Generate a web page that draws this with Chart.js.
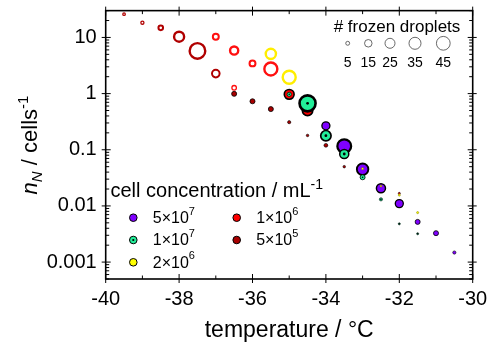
<!DOCTYPE html>
<html lang="en">
<head>
  <meta charset="UTF-8">
  <title>n_N vs temperature</title>
  <style>
    body { margin: 0; background: #fff; }
    canvas { display: block; }
  </style>
</head>
<body>
  <canvas id="chart" width="492" height="344"></canvas>
  <script src="https://cdn.jsdelivr.net/npm/chart.js@4.4.9/dist/chart.umd.min.js"></script>
  <script>
    // temperature (°C), n_N (cells^-1), number of frozen droplets
    const ringDarkT = [-39.5, -39, -38.5, -38, -37.5, -37];
    const ringDarkV = [26, 18.3, 14.8, 10.3, 5.75, 2.27];
    const ringDarkN = [3, 4, 9, 32, 67, 19];

    const ringRedT = [-37, -36.5, -36.5, -36, -35.5];
    const ringRedV = [10.3, 5.85, 1.27, 3.45, 2.75];
    const ringRedN = [13, 23, 7, 13, 49];

    const ringYellowT = [-35.5, -35];
    const ringYellowV = [5.1, 1.96];
    const ringYellowN = [33, 49];

    const dot5e5T = [-36.5, -36, -35.5, -35, -34.5, -34, -33.5];
    const dot5e5V = [0.99, 0.73, 0.53, 0.31, 0.18, 0.12, 0.05];
    const dot5e5N = [7, 7, 7, 3, 2, 4, 2];

    const dot1e6T = [-35, -34.5, -32];
    const dot1e6V = [0.97, 0.5, 0.0167];
    const dot1e6N = [27, 30, 1.5];

    const dot2e6T = [-33, -32.5, -32, -31.5];
    const dot2e6V = [0.046, 0.0226, 0.0156, 0.0076];
    const dot2e6N = [1.5, 1.2, 1.5, 1.5];

    const dot1e7T = [-35, -34.5, -34, -33.5, -33, -32.5, -32, -31.5];
    const dot1e7V = [0.97, 0.67, 0.178, 0.084, 0.0324, 0.0131, 0.0048, 0.0032];
    const dot1e7N = [5, 72, 30, 23, 7, 3, 1.5, 1.5];

    const dot5e7T = [-34, -33.5, -33, -32.5, -32, -31.5, -31, -30.5];
    const dot5e7V = [0.267, 0.116, 0.045, 0.0207, 0.011, 0.0052, 0.00327, 0.00148];
    const dot5e7N = [18, 53, 37, 23, 18, 7, 7, 3];

    const xTickValues = [-40, -38, -36, -34, -32, -30];
    const xTickLabels = ['-40', '-38', '-36', '-34', '-32', '-30'];
    const yTickValues = [0.001, 0.01, 0.1, 1, 10];
    const yTickLabels = ['0.001', '0.01', '0.1', '1', '10'];

    const concMant = ['5', '1', '2', '1', '5'];
    const concExp = ['7', '7', '6', '6', '5'];
    const sizeCounts = [5, 15, 25, 35, 45];

    const PURPLE = '#7f00ff';
    const GREEN = '#22ee99';
    const YELLOW = '#ffff00';
    const RED = '#ff0000';
    const DARKRED = '#a80000';
    const FONT = 'Arial, "Liberation Sans", sans-serif';

    function outerR(n) { return 1.1 * Math.sqrt(n); }

    function filledPoints(ts, vs, ns) {
      return ts.map((t, i) => {
        const R = outerR(ns[i]);
        const bw = Math.max(0.6, R * 0.28);
        return { x: t, y: vs[i], r: R - bw / 2, bw };
      });
    }
    function ringPoints(ts, vs, ns) {
      return ts.map((t, i) => {
        const R = outerR(ns[i]);
        const bw = R > 5 ? 2.4 : R > 3 ? 2 : 1.3;
        return { x: t, y: vs[i], r: R - bw / 2, bw };
      });
    }
    function ds(label, data, fill, stroke, order) {
      return {
        label, data, order,
        backgroundColor: fill,
        borderColor: stroke,
        borderWidth: c => (c.raw && c.raw.bw) || 1
      };
    }

    // draws text pieces one after another, returns end x
    function rich(ctx, x, y, parts) {
      for (const p of parts) {
        ctx.font = p.font;
        ctx.fillText(p.t, x, y + (p.dy || 0));
        x += ctx.measureText(p.t).width;
      }
      return x;
    }
    function richWidth(ctx, parts) {
      let w = 0;
      for (const p of parts) { ctx.font = p.font; w += ctx.measureText(p.t).width; }
      return w;
    }

    function marker(ctx, x, y, color, dot) {
      ctx.beginPath();
      ctx.arc(x, y, 3.8, 0, Math.PI * 2);
      ctx.fillStyle = color;
      ctx.fill();
      ctx.lineWidth = 1;
      ctx.strokeStyle = '#000';
      ctx.stroke();
      if (dot) {
        ctx.beginPath();
        ctx.arc(x, y, 1.1, 0, Math.PI * 2);
        ctx.fillStyle = '#000';
        ctx.fill();
      }
    }

    const centerDots = {
      id: 'centerDots',
      afterDatasetDraw(chart, args) {
        if (chart.data.datasets[args.index].label !== '1e7') return;
        const ctx = chart.ctx;
        ctx.save();
        ctx.fillStyle = '#000';
        for (const el of args.meta.data) {
          ctx.beginPath();
          ctx.arc(el.x, el.y, el.options.radius > 3 ? 1.4 : 0.8, 0, Math.PI * 2);
          ctx.fill();
        }
        ctx.restore();
      }
    };

    const frame = {
      id: 'frame',
      afterDraw(chart) {
        const { ctx, chartArea: a, scales: { x, y } } = chart;
        ctx.save();
        ctx.strokeStyle = '#000';
        ctx.lineWidth = 1.6;
        ctx.strokeRect(a.left, a.top, a.right - a.left, a.bottom - a.top);

        ctx.lineWidth = 1;
        ctx.beginPath();
        for (let t = -40; t <= -30; t++) {
          const px = x.getPixelForValue(t);
          const major = t % 2 === 0;
          const out = major ? 4 : 0, inn = major ? 5 : 3.5;
          ctx.moveTo(px, a.bottom + out); ctx.lineTo(px, a.bottom - inn);
          ctx.moveTo(px, a.top - out); ctx.lineTo(px, a.top + inn);
        }
        for (let e = -4; e <= 1; e++) {
          for (let m = 1; m <= 9; m++) {
            const v = m * Math.pow(10, e);
            if (v < 0.0005 || v > 30) continue;
            const py = y.getPixelForValue(v);
            const major = m === 1;
            const out = major ? 4 : 0, inn = major ? 5 : 3.5;
            ctx.moveTo(a.left - out, py); ctx.lineTo(a.left + inn, py);
            ctx.moveTo(a.right + out, py); ctx.lineTo(a.right - inn, py);
          }
        }
        ctx.stroke();

        ctx.fillStyle = '#000';
        ctx.textBaseline = 'alphabetic';

        // x title
        ctx.textAlign = 'left';
        ctx.font = '23px ' + FONT;
        const xt = 'temperature / °C';
        const xw = ctx.measureText(xt).width;
        ctx.fillText(xt, (a.left + a.right) / 2 - xw / 2, 337);

        // y title
        const yParts = [
          { t: 'n', font: 'italic 22px ' + FONT },
          { t: 'N', font: 'italic 15px ' + FONT, dy: 5 },
          { t: ' / cells', font: '22px ' + FONT },
          { t: '-1', font: '15px ' + FONT, dy: -9 }
        ];
        ctx.save();
        ctx.translate(36.5, 145);
        ctx.rotate(-Math.PI / 2);
        rich(ctx, -richWidth(ctx, yParts) / 2, 0, yParts);
        ctx.restore();

        // concentration legend
        rich(ctx, 110.5, 197, [
          { t: 'cell concentration / mL', font: '20px ' + FONT },
          { t: '-1', font: '14px ' + FONT, dy: -8 }
        ]);
        const cols = [PURPLE, GREEN, YELLOW, RED, DARKRED];
        const pos = [[133.3, 217.7], [133.3, 240], [133.3, 262.3], [236.7, 217.7], [236.7, 240]];
        ctx.textBaseline = 'middle';
        cols.forEach((c, i) => {
          const [mx, my] = pos[i];
          marker(ctx, mx, my, c, i === 1);
          ctx.fillStyle = '#000';
          rich(ctx, mx + 19.5, my + 1, [
            { t: concMant[i] + '×10', font: '16px ' + FONT },
            { t: concExp[i], font: '11px ' + FONT, dy: -7 }
          ]);
        });

        // size legend
        ctx.textBaseline = 'alphabetic';
        ctx.textAlign = 'center';
        ctx.font = '17px ' + FONT;
        ctx.fillText('# frozen droplets', 397, 31.5);
        const sx = [347.7, 368.3, 390, 415, 443.3];
        ctx.font = '14px ' + FONT;
        sizeCounts.forEach((n, i) => {
          ctx.beginPath();
          ctx.arc(sx[i], 43.3, outerR(n) - 0.5, 0, Math.PI * 2);
          ctx.lineWidth = 0.8;
          ctx.strokeStyle = '#444';
          ctx.stroke();
          ctx.fillStyle = '#000';
          ctx.fillText(String(n), sx[i], 66.5);
        });
        ctx.restore();
      }
    };

    new Chart(document.getElementById('chart'), {
      type: 'bubble',
      data: {
        datasets: [
          ds('ring5e5', ringPoints(ringDarkT, ringDarkV, ringDarkN), 'rgba(0,0,0,0)', '#b00000', 9),
          ds('ring1e6', ringPoints(ringRedT, ringRedV, ringRedN), 'rgba(0,0,0,0)', '#ff1010', 8),
          ds('ring2e6', ringPoints(ringYellowT, ringYellowV, ringYellowN), 'rgba(0,0,0,0)', '#ffee00', 7),
          ds('5e5', filledPoints(dot5e5T, dot5e5V, dot5e5N), DARKRED, '#000', 6),
          ds('1e6', filledPoints(dot1e6T, dot1e6V, dot1e6N), RED, '#000', 5),
          ds('5e7', filledPoints(dot5e7T, dot5e7V, dot5e7N), PURPLE, '#000', 4),
          ds('1e7', filledPoints(dot1e7T, dot1e7V, dot1e7N), GREEN, '#000', 3),
          ds('2e6', filledPoints(dot2e6T, dot2e6V, dot2e6N), YELLOW, '#8a8a00', 2)
        ]
      },
      options: {
        responsive: false,
        animation: false,
        events: [],
        layout: { padding: { left: 0, right: 19.3, top: 7, bottom: 0 } },
        plugins: { legend: { display: false }, tooltip: { enabled: false } },
        scales: {
          x: {
            type: 'linear', min: -40, max: -30,
            grid: { display: false, drawTicks: false },
            border: { display: false },
            ticks: {
              color: '#000', font: { size: 20, family: FONT }, padding: 8, maxRotation: 0,
              callback: (v, i) => xTickLabels[i]
            },
            afterBuildTicks: s => { s.ticks = xTickValues.map(value => ({ value })); },
            afterFit: s => { s.height = 65; s.paddingLeft = 0; s.paddingRight = 0; }
          },
          y: {
            type: 'logarithmic', min: 0.0005, max: 30,
            grid: { display: false, drawTicks: false },
            border: { display: false },
            ticks: {
              color: '#000', font: { size: 20, family: FONT }, padding: 9,
              callback: (v, i) => yTickLabels[i]
            },
            afterBuildTicks: s => { s.ticks = yTickValues.map(value => ({ value })); },
            afterFit: s => { s.width = 105.7; s.paddingTop = 0; s.paddingBottom = 0; }
          }
        }
      },
      plugins: [centerDots, frame]
    });
  </script>
</body>
</html>
